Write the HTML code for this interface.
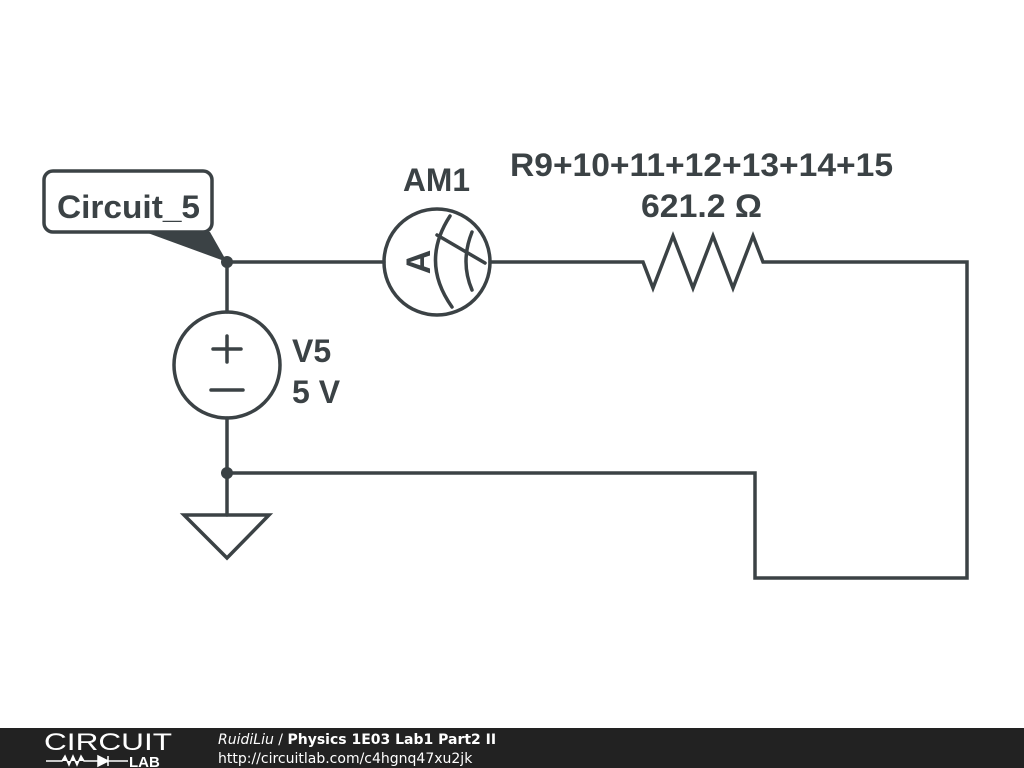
<!DOCTYPE html>
<html><head><style>
body{margin:0;width:1024px;height:768px;background:#fff;overflow:hidden;position:relative;font-family:"Liberation Sans",sans-serif}
.ft{position:absolute;left:0;top:728px;width:1024px;height:40px;background:#222;}
</style></head><body>
<svg width="1024" height="768" style="position:absolute;left:0;top:0">
<g stroke="#3b4245" stroke-width="3.5" fill="none" stroke-linecap="round" stroke-linejoin="miter">
<path d="M227,262 H384 M490,262 H643 L653,288 L673,236 L693,288 L713,236 L733,288 L753,236 L763,262 H967 V578 H755 V473 H227"/>
<path d="M227,262 V312 M227,418 V515"/>
<circle cx="437" cy="262" r="53"/>
<circle cx="227" cy="365" r="53"/>
<path d="M227,336 V362 M213,349 H241 M211,390 H243"/>
<path d="M184,515 H269 L227,558 Z"/>
<path d="M450,216 Q420,262 452,307 M472,232 Q460,262 472,290 M437,235 L485,263"/>
<rect x="44" y="171" width="168" height="61" rx="9" fill="#fff"/>
</g>
<path d="M145,232 L210,232 L227,262 Z" fill="#3b4245"/>
<circle cx="227" cy="262" r="6" fill="#3b4245"/>
<circle cx="227" cy="473" r="6" fill="#3b4245"/>
<g font-weight="bold" fill="#3b4245" font-size="32">
<text x="57" y="218" textLength="143" lengthAdjust="spacingAndGlyphs">Circuit_5</text>
<text x="403" y="191" textLength="67" lengthAdjust="spacingAndGlyphs">AM1</text>
<text x="510" y="176" textLength="383" lengthAdjust="spacingAndGlyphs">R9+10+11+12+13+14+15</text>
<text x="641" y="217" textLength="121" lengthAdjust="spacingAndGlyphs">621.2 Ω</text>
<text x="292" y="362">V5</text>
<text x="292" y="403">5 V</text>
<text transform="translate(430,262) rotate(-90)" font-size="34" text-anchor="middle">A</text>
</g>
</svg>
<div class="ft">
<svg width="1024" height="40" style="position:absolute;left:0;top:0">
<text x="44" y="22" font-size="24" fill="#fff" textLength="128" lengthAdjust="spacingAndGlyphs">CIRCUIT</text>
<path d="M46,33 H62 L65,28 L69,37 L73,28 L77,37 L81,28 L84,33 H98 M98,28 V38 L108,33 Z M108,28 V38 M108,33 H128" stroke="#fff" stroke-width="1.5" fill="#fff"/>
<text x="129" y="39" font-size="15" font-weight="bold" fill="#fff">LAB</text>
<text x="218" y="16" font-size="14" fill="#fff" font-family="DejaVu Sans"><tspan font-style="italic">RuidiLiu</tspan> / <tspan font-weight="bold">Physics 1E03 Lab1 Part2 II</tspan></text>
<text x="218" y="35" font-size="14" fill="#fff" font-family="DejaVu Sans">http://circuitlab.com/c4hgnq47xu2jk</text>
</svg>
</div>
</body></html>
